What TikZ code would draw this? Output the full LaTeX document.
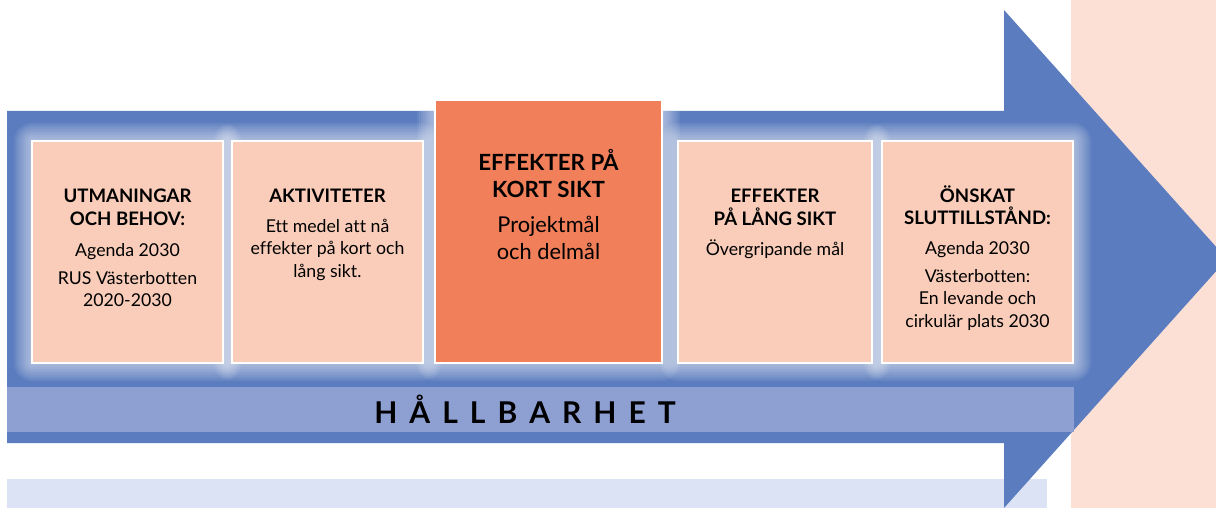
\documentclass[tikz,border=0pt]{standalone}
\usepackage{fontspec}
\setmainfont{Lato}[Ligatures=CommonOff]
\definecolor{arrowblue}{RGB}{91,124,190}
\definecolor{bandblue}{RGB}{142,159,210}
\definecolor{paleblue}{RGB}{220,227,245}
\definecolor{bgpeach}{RGB}{252,224,214}
\definecolor{boxpeach}{RGB}{249,205,185}
\definecolor{boxorange}{RGB}{240,127,90}
\newcommand{\glowbox}[4]{%
  \foreach \r in {2,4,...,18}{%
    \fill[white,fill opacity=0.07,rounded corners=\r pt] (#1-\r,#2-\r) rectangle (#3+\r,#4+\r);
  }}
\newcommand{\btext}[2]{\parbox[t]{#1}{\centering #2}}
\newcommand{\hd}[1]{{\fontsize{18.6}{22.5}\selectfont\bfseries #1}}
\newcommand{\bighd}[1]{{\fontsize{22.3}{27}\selectfont\bfseries #1}}
\tikzset{
  pbox/.style={draw=white,line width=2pt,fill=boxpeach,inner sep=0pt},
  obox/.style={draw=white,line width=1.2pt,fill=boxorange,inner sep=0pt},
  txt/.style={anchor=base,inner sep=0pt,font=\fontsize{17.7}{22.5}\selectfont},
  bigtxt/.style={anchor=base,inner sep=0pt,font=\fontsize{21.8}{27}\selectfont},
}
\begin{document}
\begin{tikzpicture}[x=1pt,y=-1pt]
\useasboundingbox (0,0) rectangle (1216,508);
\begin{scope}
\clip (0,0) rectangle (1216,508);
\fill[bgpeach] (1071,0) rectangle (1216,508);
\fill[paleblue] (7,479) rectangle (1047,508);
\fill[arrowblue] (7,111) -- (1004,111) -- (1004,10) -- (1227,259) -- (1004,508) -- (1004,443) -- (7,443) -- cycle;
\begin{scope}
\clip (7,111) -- (1004,111) -- (1004,10) -- (1227,259) -- (1004,508) -- (1004,443) -- (7,443) -- cycle;
\glowbox{32}{141}{223}{363}
\glowbox{232}{141}{423}{363}
\glowbox{435}{100}{662}{363}
\glowbox{678}{141}{872}{363}
\glowbox{882}{141}{1073}{363}
\end{scope}
\fill[bandblue] (7,387) rectangle (1074,432);
\end{scope}

\node[pbox,minimum width=191pt,minimum height=222pt] (b1) at (127.5,252) {};
\node[pbox,minimum width=191pt,minimum height=222pt] (b2) at (327.5,252) {};
\node[obox,minimum width=227pt,minimum height=263pt] (b3) at (548.5,231.5) {};
\node[pbox,minimum width=194pt,minimum height=222pt] (b4) at (775,252) {};
\node[pbox,minimum width=191pt,minimum height=222pt] (b5) at (977.5,252) {};

\node[txt] (t1) at (127.5,203) {\btext{188pt}{\hd{UTMANINGAR}\\\hd{OCH BEHOV:}\\[8.5pt]Agenda 2030\\[5.5pt]RUS Västerbotten\\2020-2030}};
\node[txt] (t2) at (327.5,203) {\btext{188pt}{\hd{AKTIVITETER}\\[6.5pt]Ett medel att nå\\effekter på kort och\\lång sikt.}};
\node[bigtxt] (t3) at (548.5,171) {\btext{224pt}{\bighd{EFFEKTER PÅ}\\\bighd{KORT SIKT}\\[8pt]Projektmål\\och delmål}};
\node[txt] (t4) at (775,203) {\btext{190pt}{\hd{EFFEKTER}\\\hd{PÅ LÅNG SIKT}\\[7.5pt]Övergripande mål}};
\node[txt] (t5) at (977.5,202) {\btext{190pt}{\hd{ÖNSKAT}\\\hd{SLUTTILLSTÅND:}\\[7.5pt]Agenda 2030\\[5.5pt]Västerbotten:\\En levande och\\cirkulär plats 2030}};

\node[anchor=base,inner sep=0pt,font=\fontsize{30}{32}\selectfont\bfseries] (hb) at (525,423)
  {H\hspace{12pt}Å\hspace{12pt}L\hspace{12pt}L\hspace{12pt}B\hspace{12pt}A\hspace{12pt}R\hspace{12pt}H\hspace{12pt}E\hspace{12pt}T};
\end{tikzpicture}
\end{document}
